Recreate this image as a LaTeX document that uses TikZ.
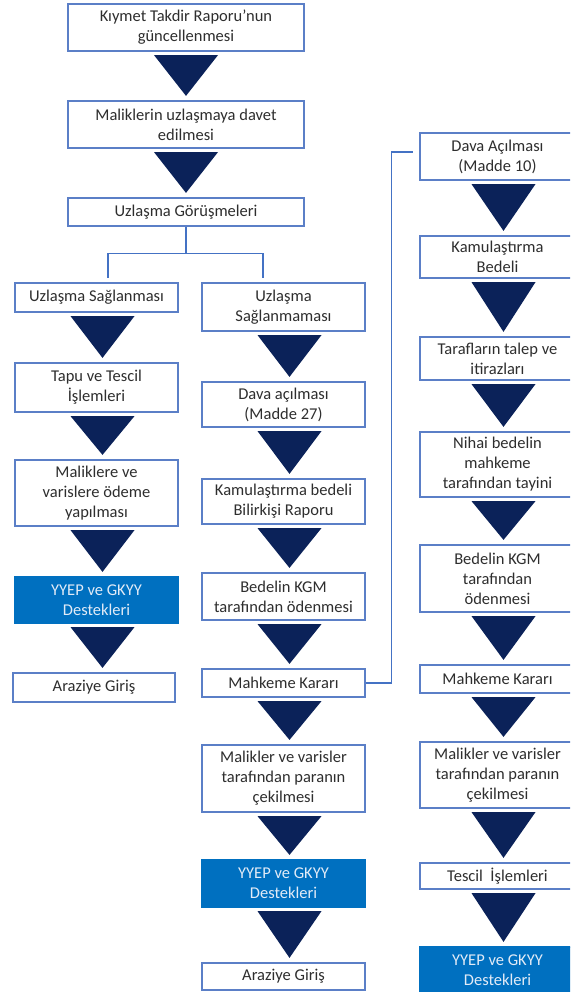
\documentclass[tikz,border=0pt]{standalone}
\usepackage{fontspec}
\setmainfont{Carlito}
\usetikzlibrary{calc}

\definecolor{boxline}{HTML}{5B7FC7}
\definecolor{linkblue}{HTML}{4472C4}
\definecolor{navy}{HTML}{0B2259}
\definecolor{fillblue}{HTML}{0070C0}
\definecolor{textgray}{HTML}{2E2E2E}
\definecolor{lighttext}{HTML}{E2EBF7}

\tikzset{
  stage/.style={draw=boxline, line width=1.2pt, fill=white, text=textgray,
    align=center, inner sep=0pt, minimum width=163pt,
    font=\fontsize{16.5}{20}\selectfont},
  wide/.style={stage, minimum width=236pt},
  slim/.style={stage, minimum width=155pt},
  support/.style={fill=fillblue, draw=fillblue, text=lighttext},
  link/.style={draw=linkblue, line width=1.6pt},
}

% filled triangle from the bottom of #2 to the top of #3
\newcommand{\downtri}[3][0]{%
  \fill[navy] ($(#2.south)+(#1-32,3.5)$) -- ($(#2.south)+(#1+32,3.5)$)
    -- ($(#2.south |- #3.north)+(#1,-4.5)$) -- cycle;}

\begin{document}
\begin{tikzpicture}[x=1pt, y=-1pt]

  \useasboundingbox (0,0) rectangle (570,992);
  \clip (0,0) rectangle (570,992);

  % Define nodes
  \node[wide, minimum height=47pt] (takdir)  at (186,27.5) {Kıymet Takdir Raporu’nun\\güncellenmesi};
  \node[wide, minimum height=47pt] (davet)   at (186,124.5) {Maliklerin uzlaşmaya davet\\edilmesi};
  \node[wide, minimum height=28pt] (gorusme) at (186,212) {Uzlaşma Görüşmeleri};

  % left column
  \node[stage, minimum height=29pt] (saglandi) at (96.5,297.5) {Uzlaşma Sağlanması};
  \node[stage, minimum height=49pt] (tapu)     at (96.5,387.5) {Tapu ve Tescil\\İşlemleri};
  \node[stage, minimum height=66pt] (odeme)    at (96.5,493) {Maliklere ve\\varislere ödeme\\yapılması};
  \node[stage, support, minimum height=46pt] (destek1) at (96.5,600) {YYEP ve GKYY\\Destekleri};
  \node[stage, minimum width=162pt, minimum height=29pt] (giris1) at (94,687.5) {Araziye Giriş};

  % middle column
  \node[stage, minimum height=48pt] (saglanmadi) at (283.5,307) {Uzlaşma\\Sağlanmaması};
  \node[stage, minimum height=45pt] (dava27)     at (283.5,404.5) {Dava açılması\\(Madde 27)};
  \node[stage, minimum height=45pt] (bilirkisi)  at (283.5,501.5) {Kamulaştırma bedeli\\Bilirkişi Raporu};
  \node[stage, minimum height=47pt] (kgm2)       at (283.5,596.5) {Bedelin KGM\\tarafından ödenmesi};
  \node[stage, minimum height=28pt] (karar2)     at (283.5,683) {Mahkeme Kararı};
  \node[stage, minimum height=67pt] (cekim2)     at (283.5,778.5) {Malikler ve varisler\\tarafından paranın\\çekilmesi};
  \node[stage, support, minimum height=47pt] (destek2) at (283.5,883.5) {YYEP ve GKYY\\Destekleri};
  \node[stage, minimum height=27pt] (giris2)     at (283.5,976.5) {Araziye Giriş};

  % right column
  \node[slim, minimum height=47pt] (dava10) at (497.5,156.5) {Dava Açılması\\(Madde 10)};
  \node[slim, minimum height=42pt] (bedel3) at (497.5,257) {Kamulaştırma\\Bedeli};
  \node[slim, minimum height=43pt] (talep)  at (497.5,358.5) {Tarafların talep ve\\itirazları};
  \node[slim, minimum height=65pt] (tayin)  at (497.5,464.5) {Nihai bedelin\\mahkeme\\tarafından tayini};
  \node[slim, minimum height=67pt] (kgm3)   at (497.5,578.5) {Bedelin KGM\\tarafından\\ödenmesi};
  \node[slim, minimum height=28pt] (karar3) at (497.5,679) {Mahkeme Kararı};
  \node[slim, minimum height=66pt] (cekim3) at (497.5,775) {Malikler ve varisler\\tarafından paranın\\çekilmesi};
  \node[slim, minimum height=26pt] (tescil) at (497.5,876) {Tescil\ \ İşlemleri};
  \node[slim, support, minimum height=46pt] (destek3) at (497.5,970) {YYEP ve GKYY\\Destekleri};

  % Triangles between steps
  \downtri{takdir}{davet}
  \downtri{davet}{gorusme}
  \foreach \a/\b in {saglandi/tapu, tapu/odeme, odeme/destek1, destek1/giris1,
      saglanmadi/dava27, dava27/bilirkisi, bilirkisi/kgm2, kgm2/karar2,
      karar2/cekim2, cekim2/destek2, destek2/giris2,
      dava10/bedel3, bedel3/talep, talep/tayin, tayin/kgm3, kgm3/karar3,
      karar3/cekim3, cekim3/tescil, tescil/destek3}
    {\downtri[6]{\a}{\b}}

  % Connect the nodes
  \coordinate (splitL) at (108,278);
  \coordinate (splitR) at (263,278);
  \coordinate (toDava) at (413,152);
  \draw[link] (gorusme.south) -- ++(0,27) -| (splitL);
  \draw[link] (gorusme.south) ++(0,27) -| (splitR);
  \draw[link] (karar2.east) -- ++(26,0) |- (toDava);

\end{tikzpicture}
\end{document}
